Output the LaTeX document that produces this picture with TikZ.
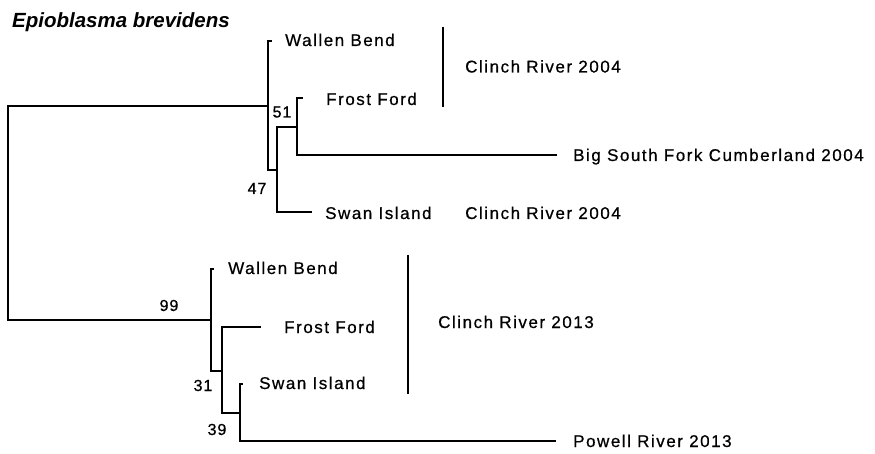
\documentclass[tikz,border=0pt]{standalone}
\usepackage{fontspec}
\setmainfont{Liberation Sans}
\newfontfamily\labfont[LetterSpace=9,FakeBold=0.6]{Liberation Sans}
\newfontfamily\numfont[LetterSpace=6,FakeBold=0.6]{Liberation Sans}
\begin{document}
\begin{tikzpicture}[x=1pt,y=-1pt,
  tree/.style={line width=2pt,line cap=rect},
  clade/.style={line width=2.7pt},
  leaf/.style={anchor=base west,inner sep=0pt,font=\labfont\fontsize{17}{20}\selectfont},
  boot/.style={anchor=base,inner sep=0pt,font=\numfont\fontsize{16}{19}\selectfont},
  titl/.style={anchor=base west,inner sep=0pt,font=\fontsize{20.5}{24}\selectfont\bfseries\itshape}]
\useasboundingbox[fill=white] (0,0) rectangle (875,454);
% internal nodes (point where the parent branch joins)
\coordinate (R) at (8,213);
\coordinate (A) at (268,106);
\coordinate (B) at (277,170);
\coordinate (C) at (297,127);
\coordinate (D) at (211,320);
\coordinate (E) at (222,371);
\coordinate (F) at (240,413);
% leaf tips
\coordinate (wb1) at (271,41);
\coordinate (ff1) at (302,98);
\coordinate (bsf) at (556,155);
\coordinate (si1) at (311,212);
\coordinate (wb2) at (213,269);
\coordinate (ff2) at (260,327);
\coordinate (si2) at (242,384);
\coordinate (pr) at (555,441);
% branches
\draw[tree] (R) |- (A);
\draw[tree] (R) |- (D);
\draw[tree] (A) |- (wb1);
\draw[tree] (A) |- (B);
\draw[tree] (B) |- (C);
\draw[tree] (B) |- (si1);
\draw[tree] (C) |- (ff1);
\draw[tree] (C) |- (bsf);
\draw[tree] (D) |- (wb2);
\draw[tree] (D) |- (E);
\draw[tree] (E) |- (ff2);
\draw[tree] (E) |- (F);
\draw[tree] (F) |- (si2);
\draw[tree] (F) |- (pr);
% clade bars
\coordinate (c1a) at (443,27);
\coordinate (c1b) at (443,107);
\coordinate (c2a) at (408,255);
\coordinate (c2b) at (408,394);
\draw[clade] (c1a) -- (c1b);
\draw[clade] (c2a) -- (c2b);
% title
\node[titl] (title) at (12,27.3) {Epioblasma brevidens};
% leaf labels
\node[leaf] (lwb1) at (285,46) {Wallen Bend};
\node[leaf] (lff1) at (326,105) {Frost Ford};
\node[leaf] (lbsf) at (573,161) {Big South Fork Cumberland 2004};
\node[leaf] (lsi1) at (325,219) {Swan Island};
\node[leaf] (lcr1) at (465,72.5) {Clinch River 2004};
\node[leaf] (lcr1b) at (465,219) {Clinch River 2004};
\node[leaf] (lwb2) at (228,274) {Wallen Bend};
\node[leaf] (lff2) at (284,333) {Frost Ford};
\node[leaf] (lsi2) at (259,389) {Swan Island};
\node[leaf] (lcr2) at (438,328) {Clinch River 2013};
\node[leaf] (lpr) at (573,447) {Powell River 2013};
% bootstrap values
\node[boot] (b51) at (282,117.5) {51};
\node[boot] (b47) at (257,194) {47};
\node[boot] (b99) at (169,311) {99};
\node[boot] (b31) at (203,391) {31};
\node[boot] (b39) at (217,435) {39};
\end{tikzpicture}
\end{document}
